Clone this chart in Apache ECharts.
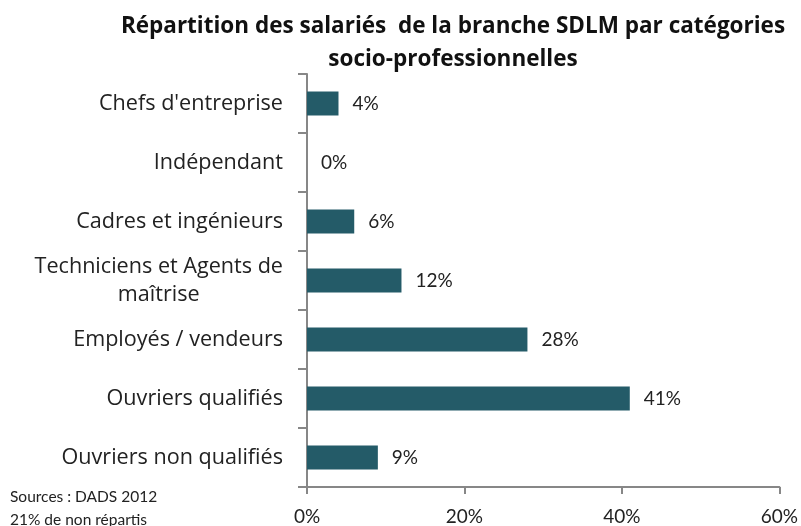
<!DOCTYPE html>
<html>
<head>
<meta charset="utf-8">
<script src="https://cdn.jsdelivr.net/npm/echarts@6/dist/echarts.min.js"></script>
<style>
  html, body { margin: 0; padding: 0; background: #fff; }
  #chart { width: 801px; height: 526px; }
</style>
</head>
<body>
<div id="chart"></div>
<script>
// Socio-professional categories (top to bottom) and their share of employees (%)
const categories = [
  "Chefs d'entreprise",
  "Indépendant",
  "Cadres et ingénieurs",
  "Techniciens et Agents de\nmaîtrise",
  "Employés / vendeurs",
  "Ouvriers qualifiés",
  "Ouvriers non qualifiés"
];
const shares = [4, 0, 6, 12, 28, 41, 9];
const xTicks = [0, 20, 40, 60];

const FONT = "Lato, 'Open Sans', sans-serif";
const LABEL_FONT = "'Open Sans', Lato, sans-serif";
const AXIS_COLOR = '#878787';

const chart = echarts.init(document.getElementById('chart'), null, { renderer: 'canvas' });

chart.setOption({
  animation: false,
  textStyle: { fontFamily: FONT },
  title: {
    text: 'Répartition des salariés  de la branche SDLM par catégories\nsocio-professionnelles',
    left: 448,
    top: 5,
    textAlign: 'center',
    textStyle: {
      fontFamily: LABEL_FONT,
      fontSize: 22.5,
      fontWeight: 'bold',
      color: '#111',
      lineHeight: 33
    }
  },
  graphic: [
    {
      type: 'text',
      left: 10,
      top: 485,
      style: {
        text: 'Sources : DADS 2012\n21% de non répartis',
        font: '15.5px ' + FONT,
        fill: '#222',
        lineHeight: 23
      }
    }
  ],
  grid: { left: 307, right: 20, top: 74, bottom: 39, containLabel: false },
  xAxis: {
    type: 'value',
    min: xTicks[0],
    max: xTicks[xTicks.length - 1],
    interval: 20,
    axisLine: { show: true, lineStyle: { color: AXIS_COLOR, width: 2 } },
    axisTick: { show: true, length: 7, lineStyle: { color: AXIS_COLOR, width: 2 } },
    splitLine: { show: false },
    axisLabel: {
      margin: 20,
      fontSize: 19,
      color: '#222',
      fontFamily: FONT,
      formatter: v => v + '%'
    }
  },
  yAxis: {
    type: 'category',
    inverse: true,
    data: categories,
    axisLine: { show: true, lineStyle: { color: AXIS_COLOR, width: 2 } },
    axisTick: { show: true, length: 9, lineStyle: { color: AXIS_COLOR, width: 2 } },
    axisLabel: {
      margin: 24,
      fontFamily: LABEL_FONT,
      color: '#222',
      formatter: v => v.split('\n').map(l => '{c|' + l + '}').join('\n'),
      rich: {
        c: { fontSize: 21.6, fontFamily: LABEL_FONT, color: '#222', align: 'center', lineHeight: 28 }
      }
    }
  },
  series: [
    {
      type: 'bar',
      data: shares,
      barWidth: 24,
      itemStyle: { color: '#245B68' },
      label: {
        show: true,
        position: 'right',
        distance: 14,
        fontSize: 19,
        fontFamily: FONT,
        color: '#222',
        formatter: p => p.value + '%'
      }
    }
  ]
});
</script>
</body>
</html>
